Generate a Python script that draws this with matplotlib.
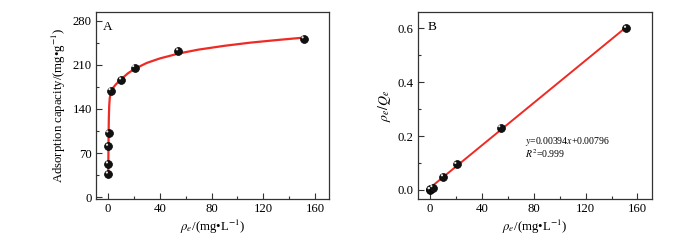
import matplotlib
matplotlib.use("Agg")
import matplotlib.pyplot as plt
import matplotlib.transforms as mtransforms
import numpy as np

plt.rcParams['font.family'] = ['Liberation Serif', 'DejaVu Serif']
plt.rcParams['mathtext.fontset'] = 'stix'

# Panel A: adsorption isotherm data
a_x = [0.05, 0.1, 0.2, 0.35, 2.1, 10.3, 20.4, 54.4, 151.5]
a_y = [37, 53, 81, 102, 169, 186, 205.5, 232, 251]
# Fitted curve
curve_x = [0.05, 0.15, 0.3, 0.5, 0.8, 1.2, 1.8, 2.6, 4, 6, 10, 15, 20, 30, 40, 55, 70, 90, 110, 130, 151.5]
curve_y = [37, 60, 95, 125, 145, 157, 164, 169, 174, 179, 187, 196, 203, 213, 220, 228, 234, 240, 245, 249, 253]

# Panel B: linearised Langmuir
b_x = [0.05, 0.2, 2.1, 10.3, 20.6, 54.5, 151.5]
b_y = [0.001, 0.002, 0.0087, 0.049, 0.095, 0.231, 0.600]
fit_slope = 0.00394
fit_intercept = 0.00796
fit_range = [0, 151.5]

fig = plt.figure(figsize=(7, 2.4), dpi=100)
axA = fig.add_axes([0.137, 0.1696, 0.3333, 0.7817])
axB = fig.add_axes([0.5967, 0.1696, 0.3343, 0.7817])

spine_col = '#333333'
for ax in (axA, axB):
    for s in ax.spines.values():
        s.set_color(spine_col)
        s.set_linewidth(0.9)
    ax.tick_params(which='both', direction='in', color=spine_col, labelsize=9.2, pad=3)
    ax.tick_params(which='major', length=4, width=0.8)
    ax.tick_params(which='minor', length=2.2, width=0.8)
    ax.set_xlim(-9.5, 171)
    ax.set_xticks([0, 40, 80, 120, 160])
    ax.set_xticks([20, 60, 100, 140], minor=True)
    ax.set_xlabel(r'$\rho_e$/(mg•L$^{-1}$)', fontsize=9.2, labelpad=2)


def balls(ax, x, y):
    ax.scatter(x, y, s=32, color='#111111', edgecolors='#000000', linewidths=0.5, zorder=3)
    tr = mtransforms.offset_copy(ax.transData, fig=fig, x=-1.0, y=1.1, units='points')
    ax.scatter(x, y, s=2.5, color='#e8e8e8', edgecolors='none', transform=tr, zorder=4)

# Panel A
axA.plot(curve_x, curve_y, color='#ee2a24', lw=1.6, zorder=2)
balls(axA, a_x, a_y)
axA.set_ylim(-3, 294)
axA.set_yticks([0, 70, 140, 210, 280])
axA.set_yticks([35, 105, 175, 245], minor=True)
axA.set_ylabel('Adsorption capacity/(mg•g$^{-1}$)', fontsize=9.2, labelpad=3)
axA.text(0, 270, 'A', fontsize=9.5, ha='center', va='center')

# Panel B
fx = np.array(fit_range)
axB.plot(fx, fit_slope * fx + fit_intercept, color='#ee2a24', lw=1.4, zorder=2)
balls(axB, b_x, b_y)
axB.set_ylim(-0.0345, 0.6616)
axB.set_yticks([0.0, 0.2, 0.4, 0.6])
axB.set_yticks([0.1, 0.3, 0.5], minor=True)
axB.yaxis.set_major_formatter(matplotlib.ticker.FormatStrFormatter('%.1f'))
axB.set_ylabel(r'$\rho_e/Q_e$', fontsize=10, labelpad=3)
axB.text(1.3, 0.606, 'B', fontsize=9.5, ha='center', va='center')
axB.text(73.5, 0.180, r'$y$=0.00394$x$+0.00796', fontsize=7, ha='left', va='center')
axB.text(73.5, 0.137, r'$R^2$=0.999', fontsize=7, ha='left', va='center')

fig.savefig('out.png', dpi=100)
